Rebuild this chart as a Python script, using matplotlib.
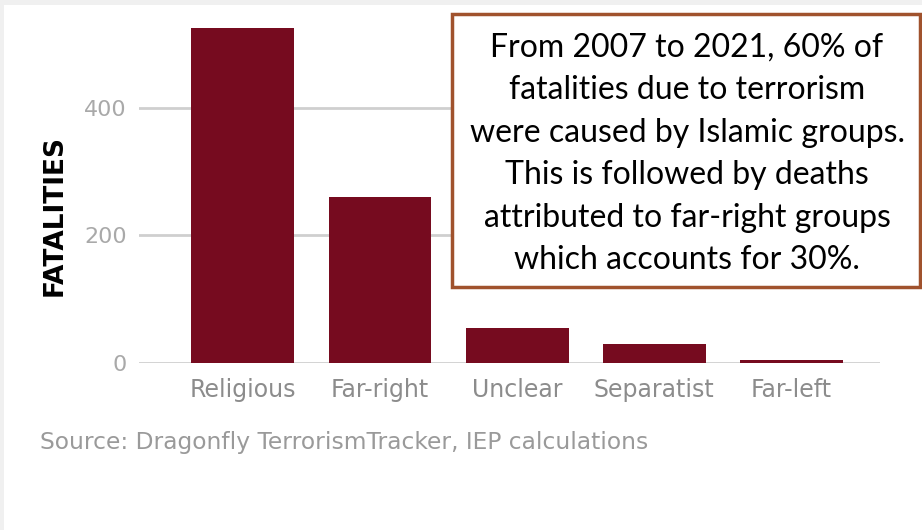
import matplotlib
matplotlib.use("Agg")
import matplotlib.pyplot as plt
from matplotlib.patches import Rectangle

categories = ["Religious", "Far-right", "Unclear", "Separatist", "Far-left"]
fatalities = [526, 260, 55, 29, 5]
yticks = [0, 200, 400]
ylabel = "FATALITIES"
source = "Source: Dragonfly TerrorismTracker, IEP calculations"
note = ("From 2007 to 2021, 60% of\nfatalities due to terrorism\nwere caused by Islamic groups.\n"
        "This is followed by deaths\nattributed to far-right groups\nwhich accounts for 30%.")

W, H = 922, 530
fig = plt.figure(figsize=(W / 100, H / 100), dpi=100, facecolor="#f0f0f0")
# white panel (light gray strip at top & left)
fig.patches.append(Rectangle((4 / W, 0), 1, 1 - 5 / H, transform=fig.transFigure,
                             facecolor="white", edgecolor="none", zorder=-10))

ax = fig.add_axes([139 / W, 167.3 / H, (880 - 139) / W, 343.9 / H])
ax.set_facecolor("none")
x = list(range(len(categories)))
ax.bar(x, fatalities, width=0.75, color="#760b1f", zorder=3)
ax.set_xlim(-0.757, 4.645)
ax.set_ylim(0, 540)
ax.set_yticks(yticks)
ax.set_yticklabels([str(v) for v in yticks], color="#a9a9a9", fontsize=16)
ax.set_xticks(x)
ax.set_xticklabels(categories, color="#8c8c8c", fontsize=17)
ax.tick_params(axis="both", length=0)
ax.tick_params(axis="y", pad=9)
ax.tick_params(axis="x", pad=11)
for s in ax.spines.values():
    s.set_visible(False)
ax.yaxis.grid(True, color="#cfcfcf", linewidth=2)
ax.set_axisbelow(True)

fig.text(55 / W, 1 - 215 / H, ylabel, rotation=90, fontsize=19, fontweight="heavy",
         color="black", ha="center", va="center")
fig.text(40 / W, 1 - 443 / H, source, fontsize=16.8, color="#9a9a9a", ha="left", va="center")

fig.patches.append(Rectangle((452 / W, 1 - 287 / H), 468 / W, 273 / H, transform=fig.transFigure,
                             facecolor="white", edgecolor="#a0522d", linewidth=2.5, zorder=5))
fig.text(687 / W, 1 - 154 / H, note, fontsize=23, family="Lato", color="black",
         ha="center", va="center", linespacing=1.52, zorder=6)

fig.savefig("out.png", dpi=100)
